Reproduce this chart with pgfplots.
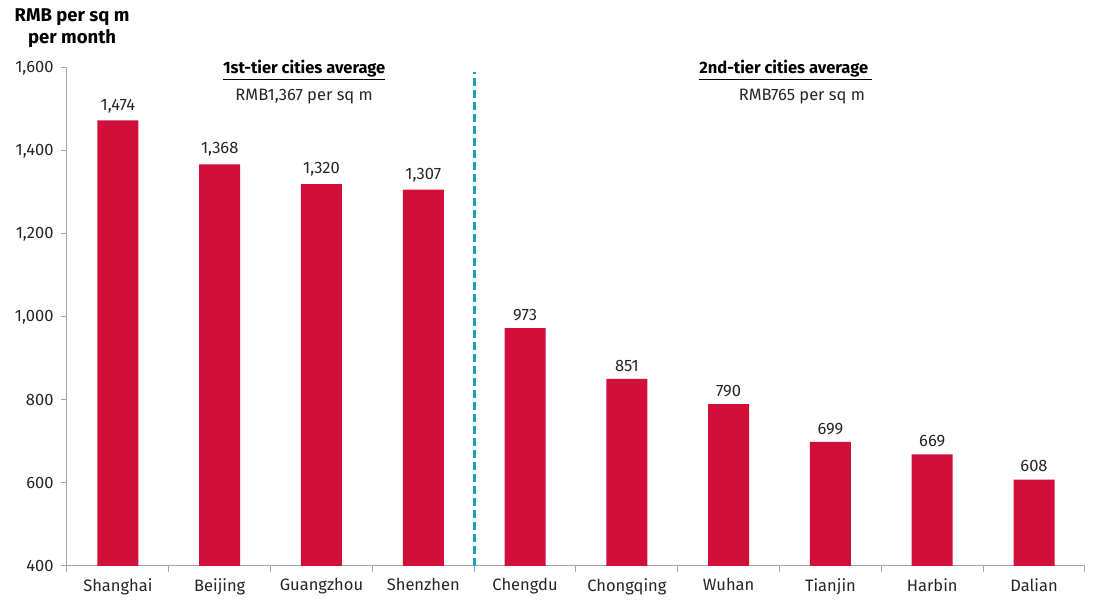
\documentclass[border=0pt]{standalone}
\usepackage{pgfplots}
\pgfplotsset{compat=1.18}
\usepackage{fontspec}
\setmainfont{Fira Sans}
\definecolor{barred}{HTML}{D0103A}
\definecolor{teal}{HTML}{1AA0BE}
\definecolor{axgray}{HTML}{A6A6A6}
\begin{document}
\begin{tikzpicture}
\begin{axis}[
  width=1018pt, height=498pt, scale only axis,
  xmin=-0.5, xmax=9.5, ymin=400, ymax=1600,
  axis lines=left,
  axis line style={draw=axgray, line width=1pt, -},
  ytick={400,600,...,1600},
  xtick={0,...,9},
  xticklabels={Shanghai,Beijing,Guangzhou,Shenzhen,Chengdu,Chongqing,Wuhan,Tianjin,Harbin,Dalian},
  minor xtick={-0.5,0.5,...,9.5},
  major x tick style={draw=none},
  minor x tick style={draw=axgray, line width=1pt},
  minor tick length=6pt,
  y tick style={draw=axgray, line width=1pt},
  major tick length=6pt,
  tick align=outside,
  /pgf/number format/assume math mode=true,
  /pgf/number format/1000 sep={,},
  yticklabel style={font=\fontsize{16.5}{19}\selectfont, color=black!85, xshift=-4pt},
  xticklabel style={font=\fontsize{16.5}{19}\selectfont, color=black!85, yshift=-3pt},
  clip=false,
  nodes near coords,
  every node near coord/.append style={font=\fontsize{16.5}{19}\selectfont, color=black!85, yshift=4pt,
    /pgf/number format/1000 sep={,}, /pgf/number format/assume math mode=true},
]
\addplot[ybar, bar width=41pt, fill=barred, draw=none] coordinates {
 (0,1474) (1,1368) (2,1320) (3,1307) (4,973) (5,851) (6,790) (7,699) (8,669) (9,608)};
\draw[teal, line width=3pt, dash pattern=on 8pt off 4pt] (axis cs:3.5,400) -- (axis cs:3.5,1590);
\node[font=\fontsize{18.5}{22}\selectfont\bfseries, align=center, anchor=center] at (axis cs:-0.45,1697) {RMB per sq m\\per month};
\node[font=\fontsize{16.5}{19}\selectfont\bfseries, anchor=center] at (axis cs:1.83,1595) {\underline{1st-tier cities average}};
\node[font=\fontsize{16.5}{19}\selectfont, color=black!85, anchor=center] at (axis cs:1.83,1530) {RMB1,367 per sq m};
\node[font=\fontsize{16.5}{19}\selectfont\bfseries, anchor=center] at (axis cs:6.56,1595) {\underline{2nd-tier cities average\ }};
\node[font=\fontsize{16.5}{19}\selectfont, color=black!85, anchor=center] at (axis cs:6.72,1530) {RMB765 per sq m};
\end{axis}
\pgfresetboundingbox
\path (current axis.south west) ++(-67pt,-35pt) rectangle ++(1093pt,601pt);
\end{tikzpicture}
\end{document}
